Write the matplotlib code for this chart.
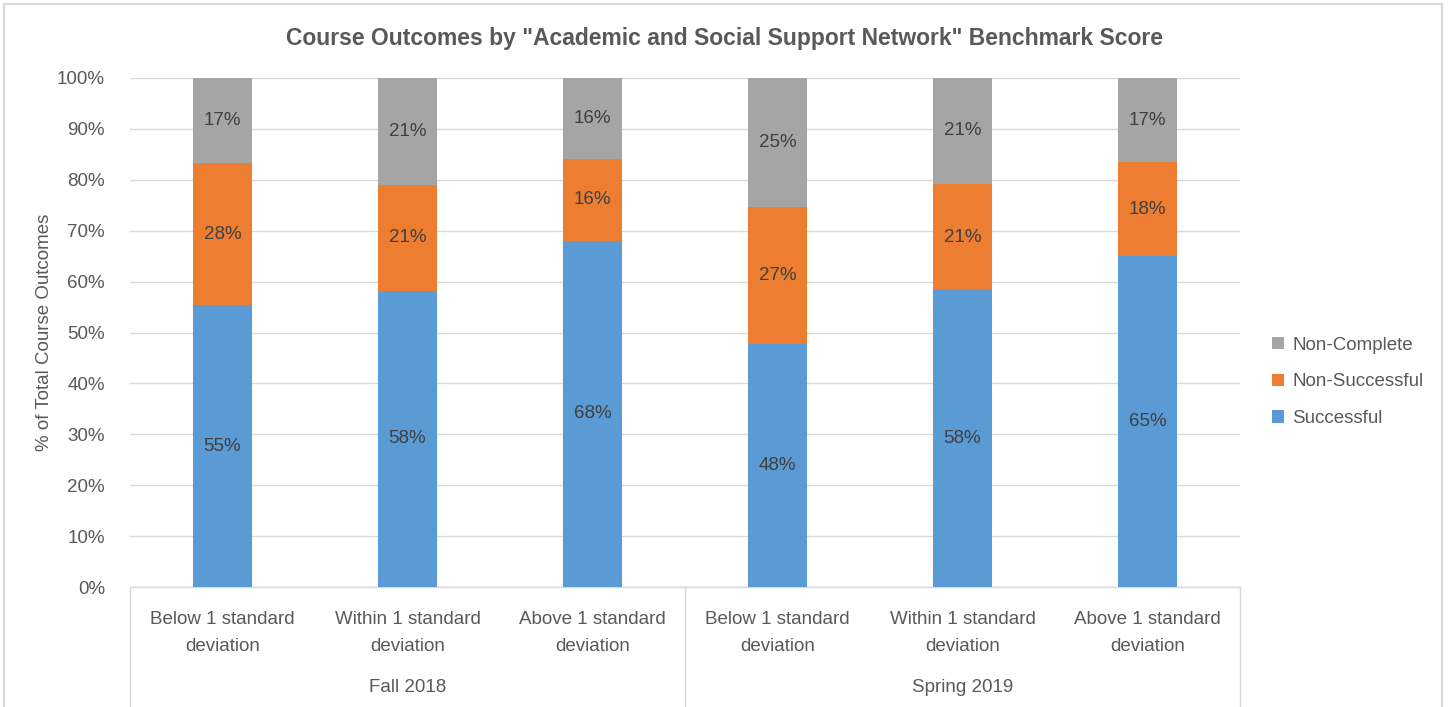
import matplotlib
matplotlib.use("Agg")
import matplotlib.pyplot as plt
from matplotlib.patches import Rectangle, Patch
from matplotlib.lines import Line2D

plt.rcParams['font.family'] = ['Liberation Sans', 'DejaVu Sans']

categories = ["Below 1 standard\ndeviation", "Within 1 standard\ndeviation", "Above 1 standard\ndeviation",
              "Below 1 standard\ndeviation", "Within 1 standard\ndeviation", "Above 1 standard\ndeviation"]
groups = ["Fall 2018", "Spring 2019"]
successful = [55.4, 58.2, 68.0, 47.7, 58.3, 65.0]
non_successful = [27.9, 20.8, 16.1, 27.0, 20.9, 18.4]
non_complete = [16.7, 21.0, 15.9, 25.3, 20.8, 16.6]
series_names = ["Successful", "Non-Successful", "Non-Complete"]
colors = ["#5B9BD5", "#ED7D31", "#A5A5A5"]

W, H = 1450, 707
fig = plt.figure(figsize=(W / 100, H / 100), dpi=100)
fig.patch.set_facecolor("white")
ax = fig.add_axes([130 / W, 1 - 587 / H, 1110 / W, 509 / H])

TXT = "#595959"
FS = 13.5
x = list(range(len(categories)))
width = 0.315
bottom = [0.0] * len(x)
data = [successful, non_successful, non_complete]
for vals, name, col in zip(data, series_names, colors):
    ax.bar(x, vals, width, bottom=bottom, color=col, label=name, zorder=3)
    for xi, v, bt in zip(x, vals, bottom):
        ax.text(xi, bt + v / 2, f"{round(v):.0f}%", ha="center", va="center",
                fontsize=FS, color="#404040", zorder=4)
    bottom = [bt + v for bt, v in zip(bottom, vals)]

ax.set_xlim(-0.5, len(x) - 0.5)
ax.set_ylim(0, 100)
ax.set_yticks(range(0, 101, 10))
ax.set_yticklabels([f"{v}%" for v in range(0, 101, 10)], fontsize=FS, color=TXT)
ax.yaxis.grid(True, color="#D9D9D9", linewidth=1.0, zorder=0)
ax.tick_params(axis="y", length=0, pad=18)
ax.set_xticks(x)
ax.set_xticklabels(categories, fontsize=FS, color=TXT, linespacing=1.8)
ax.tick_params(axis="x", length=0, pad=17)
for s in ["top", "right", "left"]:
    ax.spines[s].set_visible(False)
ax.spines["bottom"].set_color("#D9D9D9")
ax.spines["bottom"].set_linewidth(1.0)

fig.text(45 / W, 1 - 332 / H, "% of Total Course Outcomes", rotation=90, ha="center", va="center",
         fontsize=FS, color=TXT)

# group separators and labels
for xs in [-0.5, 2.5, 5.5]:
    ax.add_line(Line2D([xs, xs], [0, -30], color="#D9D9D9", lw=1.0, clip_on=False,
                       transform=ax.transData))
for gi, g in enumerate(groups):
    ax.text(1 + gi * 3, -19.8, g, ha="center", va="center", fontsize=FS, color=TXT)

fig.text(0.5, 1 - 38 / H,
         'Course Outcomes by "Academic and Social Support Network" Benchmark Score',
         ha="center", va="center", fontsize=16.5, fontweight="bold", color=TXT)

handles = [Patch(facecolor=c, edgecolor="none") for c in colors][::-1]
leg = fig.legend(handles, series_names[::-1], loc="center left",
                 bbox_to_anchor=(1255 / W, 1 - 382 / H), frameon=False,
                 fontsize=FS, handlelength=0.65, handleheight=0.65,
                 handletextpad=0.45, labelspacing=1.05)
for t in leg.get_texts():
    t.set_color(TXT)

fig.add_artist(Rectangle((4 / W, -0.05), 1438 / W, 1 - 4 / H + 0.05, transform=fig.transFigure,
                         fill=False, edgecolor="#D9D9D9", linewidth=1.5))

fig.savefig("out.png", dpi=100, facecolor="white")
